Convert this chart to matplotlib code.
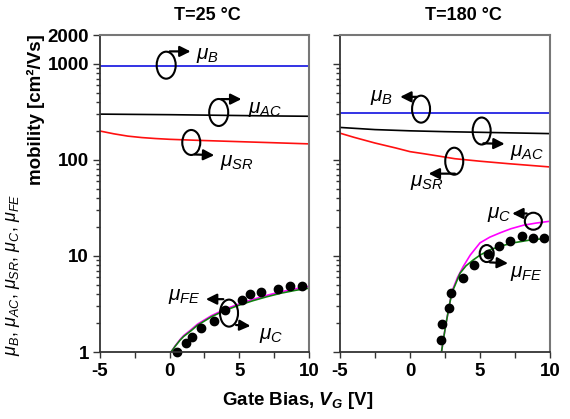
import matplotlib
matplotlib.use('Agg')
import matplotlib.pyplot as plt
from matplotlib.patches import Ellipse
from matplotlib.ticker import LogLocator, NullFormatter, FixedLocator, FixedFormatter, MultipleLocator

plt.rcParams['font.family'] = ['Liberation Sans', 'DejaVu Sans']
plt.rcParams['mathtext.fontset'] = 'custom'
plt.rcParams['mathtext.rm'] = 'Liberation Sans'
plt.rcParams['mathtext.it'] = 'Liberation Sans:italic'
plt.rcParams['mathtext.bf'] = 'Liberation Sans:bold'
plt.rcParams['mathtext.bfit'] = 'Liberation Sans:italic:bold'
plt.rcParams['axes.unicode_minus'] = False

# ---------------- data ----------------
# bulk / acoustic phonon / surface roughness mobilities (top curves)
vg_top = [-5, -2.5, 0, 2.5, 5, 7.5, 10]
mu_b_25 = [955, 955, 955, 955, 955, 955, 955]
mu_ac_25 = [300, 298, 296, 293, 290, 287, 285]
vg_sr_25 = [-5, -4, -3, -2, -1, 0, 2, 5, 7.5, 10]
mu_sr_25 = [200, 187, 177, 171, 167, 164, 160, 155, 151, 147]
mu_b_180 = [307, 307, 307, 307, 307, 307, 307]
mu_ac_180 = [218, 207, 201, 197, 194, 191, 188]
vg_sr_180 = [-5, -4, -2.5, -1, 0, 1, 2, 3.2, 5, 7, 10]
mu_sr_180 = [190, 172, 150, 133, 122, 116, 110, 103, 97, 91.5, 84.5]

# T = 25 C : Coulomb mobility and field-effect fit
vg_fit_25 = [0.1, 0.4, 0.75, 1, 1.5, 2, 3, 4, 5, 6, 7, 8, 9, 10]
mu_fe_fit_25 = [1.0, 1.15, 1.33, 1.45, 1.65, 1.9, 2.33, 2.72, 3.08, 3.43, 3.77, 4.1, 4.38, 4.62]
mu_c_25 = [1.0, 1.16, 1.35, 1.48, 1.69, 1.95, 2.39, 2.8, 3.17, 3.54, 3.9, 4.24, 4.54, 4.82]
vg_dots_25 = [0.52, 1.19, 1.6, 2.26, 3.17, 4.0, 5.19, 5.79, 6.55, 7.81, 8.62, 9.52]
mu_fe_25 = [1.0, 1.25, 1.42, 1.77, 2.12, 2.75, 3.5, 4.0, 4.17, 4.52, 4.81, 4.9]

# T = 180 C
vg_fit_180 = [2.25, 2.4, 2.62, 2.8, 2.98, 3.3, 3.57, 4.0, 4.52, 5.0, 5.71, 6.5, 7.38, 8.5, 10]
mu_fe_fit_180 = [1.0, 1.4, 2.16, 3.0, 4.1, 5.3, 6.6, 7.9, 9.1, 10.2, 11.6, 12.7, 13.7, 14.6, 15.4]
vg_c_180 = [2.25, 2.4, 2.62, 2.8, 3.0, 3.4, 3.81, 4.3, 5.0, 5.7, 6.43, 7.2, 8.1, 9.0, 10]
mu_c_180 = [1.0, 1.4, 2.16, 3.0, 4.3, 6.0, 7.8, 10.2, 13.7, 15.7, 17.4, 19.2, 20.9, 22.0, 23.0]
vg_dots_180 = [2.21, 2.26, 2.79, 2.93, 3.81, 4.6, 5.55, 6.33, 7.17, 8.0, 8.76, 9.55]
mu_fe_180 = [1.33, 1.95, 2.9, 4.1, 5.9, 8.05, 10.6, 12.6, 14.2, 16.0, 15.4, 15.4]

ytick_vals = [1, 10, 100, 1000, 2000]
ytick_labels = ['1', '10', '100', '1000', '2000']
xtick_vals = [-5, 0, 5, 10]

fig = plt.figure(figsize=(5.7, 4.19), dpi=100)
ax1 = fig.add_axes([100/570, 1-352/419, 209/570, 317/419])
ax2 = fig.add_axes([340/570, 1-352/419, 210/570, 317/419])


def style(ax, labels):
    ax.set_yscale('log')
    ax.set_xlim(-5, 10)
    ax.set_ylim(1, 2000)
    ax.yaxis.set_major_locator(FixedLocator(ytick_vals))
    ax.yaxis.set_major_formatter(FixedFormatter(ytick_labels if labels else [''] * 5))
    ax.yaxis.set_minor_locator(LogLocator(base=10, subs=range(2, 10)))
    ax.yaxis.set_minor_formatter(NullFormatter())
    ax.xaxis.set_major_locator(FixedLocator(xtick_vals))
    ax.xaxis.set_minor_locator(MultipleLocator(2.5))
    ax.tick_params(which='both', direction='out', top=False, right=False, width=1, color='#333333')
    ax.tick_params(axis='y', which='major', length=5, pad=3, labelsize=13.5)
    ax.tick_params(axis='y', which='minor', length=3)
    ax.tick_params(axis='x', which='both', length=4, pad=4, labelsize=13.5)
    for lab in ax.get_xticklabels() + ax.get_yticklabels():
        lab.set_fontweight('bold')
    for s in ['left', 'bottom']:
        ax.spines[s].set_color('#333333')
        ax.spines[s].set_linewidth(1.3)
    for s in ['top', 'right']:
        ax.spines[s].set_color('#777777')
        ax.spines[s].set_linewidth(1.5)


style(ax1, True)
style(ax2, False)

# lines
ax1.plot(vg_top, mu_b_25, color='#1010e0', lw=1.2)
ax1.plot(vg_top, mu_ac_25, color='black', lw=1.2)
ax1.plot(vg_sr_25, mu_sr_25, color='#ff1010', lw=1.2)
ax1.plot(vg_fit_25, mu_c_25, color='#ff00ff', lw=1.2)
ax1.plot(vg_fit_25, mu_fe_fit_25, color='#108010', lw=1.2)
ax1.plot(vg_dots_25, mu_fe_25, 'o', color='black', ms=6, clip_on=False)

ax2.plot(vg_top, mu_b_180, color='#1010e0', lw=1.2)
ax2.plot(vg_top, mu_ac_180, color='black', lw=1.2)
ax2.plot(vg_sr_180, mu_sr_180, color='#ff1010', lw=1.2)
ax2.plot(vg_c_180, mu_c_180, color='#ff00ff', lw=1.2)
ax2.plot(vg_fit_180, mu_fe_fit_180, color='#108010', lw=1.2)
ax2.plot(vg_dots_180, mu_fe_180, 'o', color='black', ms=6)


def mark(ax, center, size_px, a_from, a_to):
    # open ellipse + arrow marking which curve a label belongs to
    if size_px is not None:
        c = ax.transAxes.inverted().transform(ax.transData.transform(center))
        bb = ax.get_window_extent()
        ax.add_patch(Ellipse(c, size_px[0]/bb.width, size_px[1]/bb.height, transform=ax.transAxes,
                             fill=False, ec='black', lw=1.5, zorder=5))
    ax.annotate('', xy=a_to, xytext=a_from,
                arrowprops=dict(arrowstyle='-|>', color='black', lw=1.6, mutation_scale=16,
                                shrinkA=0, shrinkB=0), zorder=5)


def lab(ax, pos, text, ha='left'):
    ax.text(pos[0], pos[1], text, ha=ha, va='center', fontsize=15)


# T = 25 C annotations
mark(ax1, (-0.25, 970), (19, 27), (0.0, 1350), (1.5, 1350))
lab(ax1, (1.9, 1220), r'$\mu_B$')
mark(ax1, (3.52, 312), (19, 27), (3.69, 430), (5.15, 430))
lab(ax1, (5.6, 338), r'$\mu_{AC}$')
mark(ax1, (1.55, 152), (18, 25), (1.79, 114), (3.2, 112))
lab(ax1, (3.6, 94), r'$\mu_{SR}$')
mark(ax1, (4.26, 2.54), (18, 27), (3.85, 3.55), (2.6, 3.55))
mark(ax1, None, None, (4.76, 1.91), (5.8, 1.87))
lab(ax1, (2.2, 3.78), r'$\mu_{FE}$', ha='right')
lab(ax1, (6.4, 1.5), r'$\mu_C$')

# T = 180 C annotations
mark(ax2, (0.79, 338), (18, 27), (0.48, 454), (-0.7, 454))
lab(ax2, (-2.86, 448), r'$\mu_B$')
mark(ax2, (5.12, 200), (18, 27), (5.24, 149), (6.76, 147))
lab(ax2, (7.14, 119), r'$\mu_{AC}$')
mark(ax2, (3.16, 97), (18, 27), (3.21, 72), (1.33, 72))
lab(ax2, (0.0, 58), r'$\mu_{SR}$')
mark(ax2, (8.81, 23), (17, 17), (8.34, 27.7), (7.3, 27.7))
lab(ax2, (5.48, 27), r'$\mu_C$')
mark(ax2, (5.48, 10.6), (14, 17), (5.71, 8.57), (7.0, 8.4))
lab(ax2, (7.14, 6.6), r'$\mu_{FE}$')

# titles and axis labels
fig.text(207/570, 1-15/419, 'T=25 °C', ha='center', va='center', fontsize=13, fontweight='bold')
fig.text(463/570, 1-15/419, 'T=180 °C', ha='center', va='center', fontsize=13, fontweight='bold')
fig.text(298/570, 1-400/419, r'Gate Bias, $\mathbfit{V_G}$ [V]', ha='center', va='center',
         fontsize=13.5, fontweight='bold')
fig.text(36/570, 1-110/419, 'mobility [cm²/Vs]', rotation=90, ha='center', va='center',
         fontsize=13.5, fontweight='bold')
fig.text(13/570, 1-275/419, r'$\mu_B$, $\mu_{AC}$, $\mu_{SR}$, $\mu_C$, $\mu_{FE}$', rotation=90,
         ha='center', va='center', fontsize=13)

fig.savefig('out.png', dpi=100)
